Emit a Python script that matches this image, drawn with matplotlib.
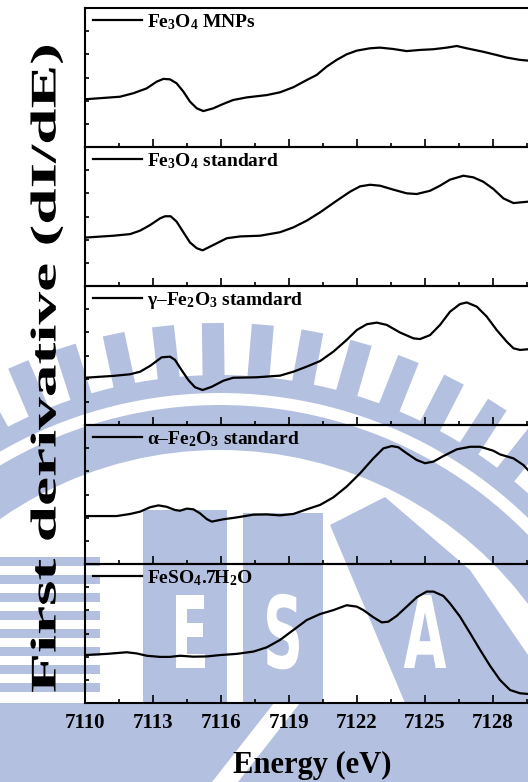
import numpy as np
import matplotlib
matplotlib.use('Agg')
import matplotlib.pyplot as plt
from matplotlib.patches import Wedge, Rectangle, Polygon
from matplotlib.patheffects import AbstractPathEffect
from matplotlib.transforms import Affine2D
from matplotlib.lines import Line2D

plt.rcParams['font.family'] = ['Liberation Serif', 'DejaVu Serif']
plt.rcParams['font.weight'] = 'bold'
plt.rcParams['mathtext.fontset'] = 'custom'
plt.rcParams['mathtext.rm'] = 'Liberation Serif:bold'
plt.rcParams['mathtext.bf'] = 'Liberation Serif:bold'
plt.rcParams['mathtext.it'] = 'Liberation Serif:bold'
plt.rcParams['mathtext.default'] = 'rm'

# first derivative spectra, one list pair per sample (offset units, 0..6 per panel)
e_mnp = [7110.00, 7111.54, 7112.13, 7112.72, 7113.16, 7113.46, 7113.75, 7114.04, 7114.34, 7114.63,
         7114.93, 7115.22, 7115.66, 7116.10, 7116.54, 7117.13, 7118.01, 7118.60, 7119.19, 7119.78,
         7120.22, 7120.66, 7121.10, 7121.54, 7121.99, 7122.57, 7123.01, 7123.60, 7124.19, 7124.78,
         7125.37, 7125.96, 7126.40, 7126.84, 7127.57, 7128.16, 7128.60, 7129.19, 7129.54]
d_mnp = [2.06, 2.17, 2.32, 2.53, 2.82, 2.94, 2.92, 2.75, 2.39, 1.96,
         1.67, 1.55, 1.67, 1.86, 2.03, 2.14, 2.24, 2.36, 2.58, 2.89,
         3.11, 3.47, 3.76, 4.00, 4.16, 4.26, 4.29, 4.23, 4.14, 4.19,
         4.22, 4.29, 4.36, 4.26, 4.11, 3.97, 3.86, 3.76, 3.73]

e_fe3o4 = [7110.00, 7111.25, 7111.99, 7112.43, 7112.87, 7113.31, 7113.53, 7113.78, 7114.04, 7114.34,
           7114.63, 7114.93, 7115.19, 7115.66, 7116.25, 7116.84, 7117.72, 7118.60, 7119.19, 7119.78,
           7120.37, 7121.10, 7121.69, 7122.13, 7122.57, 7123.01, 7123.60, 7124.19, 7124.63, 7125.22,
           7125.66, 7126.10, 7126.69, 7127.13, 7127.57, 7128.01, 7128.46, 7128.90, 7129.54]
d_fe3o4 = [2.09, 2.17, 2.24, 2.39, 2.63, 2.92, 3.01, 3.01, 2.78, 2.32,
           1.88, 1.63, 1.54, 1.77, 2.06, 2.14, 2.17, 2.32, 2.53, 2.82,
           3.18, 3.68, 4.07, 4.30, 4.37, 4.33, 4.16, 4.00, 3.97, 4.11,
           4.33, 4.59, 4.76, 4.69, 4.50, 4.19, 3.78, 3.58, 3.64]

e_gamma = [7110.00, 7111.25, 7111.99, 7112.43, 7112.87, 7113.38, 7113.75, 7113.97, 7114.26, 7114.56,
           7114.85, 7115.19, 7115.59, 7116.10, 7116.54, 7117.57, 7118.60, 7119.19, 7119.78, 7120.37,
           7120.96, 7121.54, 7121.99, 7122.43, 7122.87, 7123.31, 7123.90, 7124.49, 7124.78, 7125.22,
           7125.66, 7126.10, 7126.54, 7126.84, 7127.28, 7127.72, 7128.16, 7128.60, 7128.90, 7129.19,
           7129.54]
d_gamma = [2.04, 2.12, 2.19, 2.30, 2.55, 2.92, 2.95, 2.81, 2.37, 1.94,
           1.63, 1.51, 1.65, 1.91, 2.04, 2.06, 2.13, 2.30, 2.52, 2.76,
           3.17, 3.67, 4.10, 4.35, 4.42, 4.32, 3.99, 3.74, 3.71, 3.88,
           4.32, 4.89, 5.22, 5.29, 5.11, 4.68, 4.10, 3.60, 3.31, 3.24,
           3.27]

e_alpha = [7110.00, 7111.40, 7111.99, 7112.43, 7112.87, 7113.24, 7113.60, 7113.97, 7114.19, 7114.49,
           7114.78, 7115.07, 7115.37, 7115.59, 7116.10, 7116.69, 7117.43, 7118.01, 7118.60, 7119.19,
           7119.78, 7120.37, 7120.96, 7121.54, 7122.13, 7122.72, 7123.16, 7123.53, 7123.82, 7124.19,
           7124.63, 7125.00, 7125.37, 7125.81, 7126.40, 7126.99, 7127.43, 7128.01, 7128.31, 7128.90,
           7129.34, 7129.54]
d_alpha = [2.07, 2.07, 2.16, 2.26, 2.45, 2.53, 2.47, 2.33, 2.30, 2.39,
           2.36, 2.19, 1.94, 1.83, 1.93, 2.01, 2.13, 2.14, 2.10, 2.16,
           2.36, 2.55, 2.88, 3.34, 3.91, 4.56, 4.99, 5.09, 5.04, 4.78,
           4.49, 4.35, 4.42, 4.66, 4.95, 5.06, 5.06, 4.89, 4.73, 4.56,
           4.27, 4.06]

e_feso4 = [7110.00, 7110.96, 7111.84, 7112.28, 7112.72, 7113.31, 7113.75, 7114.19, 7114.78, 7115.37,
           7115.96, 7116.69, 7117.43, 7118.01, 7118.60, 7119.19, 7119.78, 7120.37, 7120.96, 7121.54,
           7121.99, 7122.28, 7122.72, 7123.09, 7123.38, 7123.75, 7124.19, 7124.63, 7125.07, 7125.37,
           7125.81, 7126.10, 7126.54, 7126.99, 7127.43, 7127.87, 7128.31, 7128.75, 7129.19, 7129.54]
d_feso4 = [2.07, 2.12, 2.19, 2.14, 2.04, 1.99, 1.99, 2.04, 2.00, 2.01,
           2.07, 2.12, 2.22, 2.40, 2.72, 3.15, 3.58, 3.84, 4.01, 4.22,
           4.16, 4.01, 3.70, 3.48, 3.51, 3.76, 4.16, 4.56, 4.81, 4.81,
           4.62, 4.30, 3.73, 3.01, 2.29, 1.60, 0.99, 0.56, 0.42, 0.39]

labels = [r'Fe$_3$O$_4$ MNPs',
          r'Fe$_3$O$_4$ standard',
          r'γ–Fe$_2$O$_3$ stamdard',
          r'α–Fe$_2$O$_3$ standard',
          r'FeSO$_4$.7H$_2$O']
xticks = [7110, 7113, 7116, 7119, 7122, 7125, 7128]

energies = [e_mnp, e_fe3o4, e_gamma, e_alpha, e_feso4]
derivs = [d_mnp, d_fe3o4, d_gamma, d_alpha, d_feso4]

W, H = 528, 782
WM = '#b4c0e0'


class Stretch(AbstractPathEffect):
    # scale glyph outlines in the text's own frame before placing them
    def __init__(self, sx=1.0, sy=1.0):
        super().__init__()
        self.sx, self.sy = sx, sy

    def draw_path(self, renderer, gc, tpath, affine, rgbFace=None):
        renderer.draw_path(gc, tpath, Affine2D().scale(self.sx, self.sy) + affine, rgbFace)


def drawWatermark(ax):
    cx, cy = 220, 835
    ax.add_patch(Wedge((cx, cy), 460, 215, 325, width=18, fc=WM, ec='none'))
    ax.add_patch(Wedge((cx, cy), 430, 215, 325, width=45, fc=WM, ec='none'))
    c = np.array([cx, cy])
    for a in np.radians(np.arange(-45.6, 46, 5.6)):
        d = np.array([np.sin(a), -np.cos(a)])
        p = np.array([np.cos(a), np.sin(a)])
        pts = [c + d * 458 - p * 11, c + d * 512 - p * 11, c + d * 512 + p * 11, c + d * 458 + p * 11]
        ax.add_patch(Polygon(pts, fc=WM, ec='none'))

    ax.add_patch(Rectangle((143, 510), 84, 193, fc=WM, ec='none'))
    ax.add_patch(Rectangle((243, 513), 80, 190, fc=WM, ec='none'))
    ax.add_patch(Polygon([(330, 525), (385, 497), (470, 570), (528, 655), (528, 703), (405, 703)],
                         fc=WM, ec='none'))
    for y in np.arange(557, 700, 18):
        ax.add_patch(Rectangle((0, y), 100, 9, fc=WM, ec='none'))
    ax.add_patch(Rectangle((0, 703), W, H - 703, fc=WM, ec='none'))
    ax.add_patch(Polygon([(212, 782), (238, 782), (300, 703), (274, 703)], fc='white', ec='none'))

    for x, s in [(190, 'E'), (283, 'S'), (425, 'A')]:
        ax.text(x, 668, s, color='white', fontsize=40, ha='center', va='baseline',
                family='DejaVu Sans', fontweight='bold', path_effects=[Stretch(1, 1.8)])


fig = plt.figure(figsize=(W / 100, H / 100), dpi=100)

bg = fig.add_axes([0, 0, 1, 1], zorder=0)
bg.set_xlim(0, W)
bg.set_ylim(H, 0)
bg.axis('off')
drawWatermark(bg)

left, px_per_ev = 85, 22.67
width = 20 * px_per_ev
top, ph = 8, 139

for i in range(5):
    t = top + ph * i
    ax = fig.add_axes([left / W, 1 - (t + ph) / H, width / W, ph / H], zorder=1)
    ax.set_facecolor('none')
    ax.plot(energies[i], derivs[i], c='k', linewidth=1.6)
    ax.set_xlim(7110, 7130)
    ax.set_ylim(0, 6)
    ax.set_xticks(xticks)
    ax.set_xticks(np.arange(7111.5, 7130, 3), minor=True)
    ax.set_yticks([1, 2, 3, 4, 5])
    ax.set_yticklabels([])
    ax.tick_params(axis='x', which='major', direction='in', length=6, width=1.2, top=False, pad=7,
                   labelsize=15)
    ax.tick_params(axis='x', which='minor', direction='in', length=3, width=1.2, top=False)
    ax.tick_params(axis='y', direction='in', length=3, width=1.2, right=False)
    for sp in ax.spines.values():
        sp.set_linewidth(1.5)
    if i < 4:
        ax.set_xticklabels([])
    ax.legend(handles=[Line2D([], [], c='k', linewidth=1.6)], labels=[labels[i]],
              loc='upper left', bbox_to_anchor=(8 / width, 1 - 4 / ph), frameon=False,
              borderpad=0, borderaxespad=0, handlelength=2.5, handletextpad=0.3,
              prop={'family': 'Liberation Serif', 'weight': 'bold', 'size': 14})

fig.text(47 / W, 1 - 693 / H, 'First derivative (dI/dE)', rotation=90, ha='center', va='bottom',
         fontsize=26, fontweight='bold', path_effects=[Stretch(1.81, 1)])
fig.text(312 / W, 1 - 765 / H, 'Energy (eV)', ha='center', va='center', fontsize=22, fontweight='bold')

fig.savefig('out.png', dpi=100)
